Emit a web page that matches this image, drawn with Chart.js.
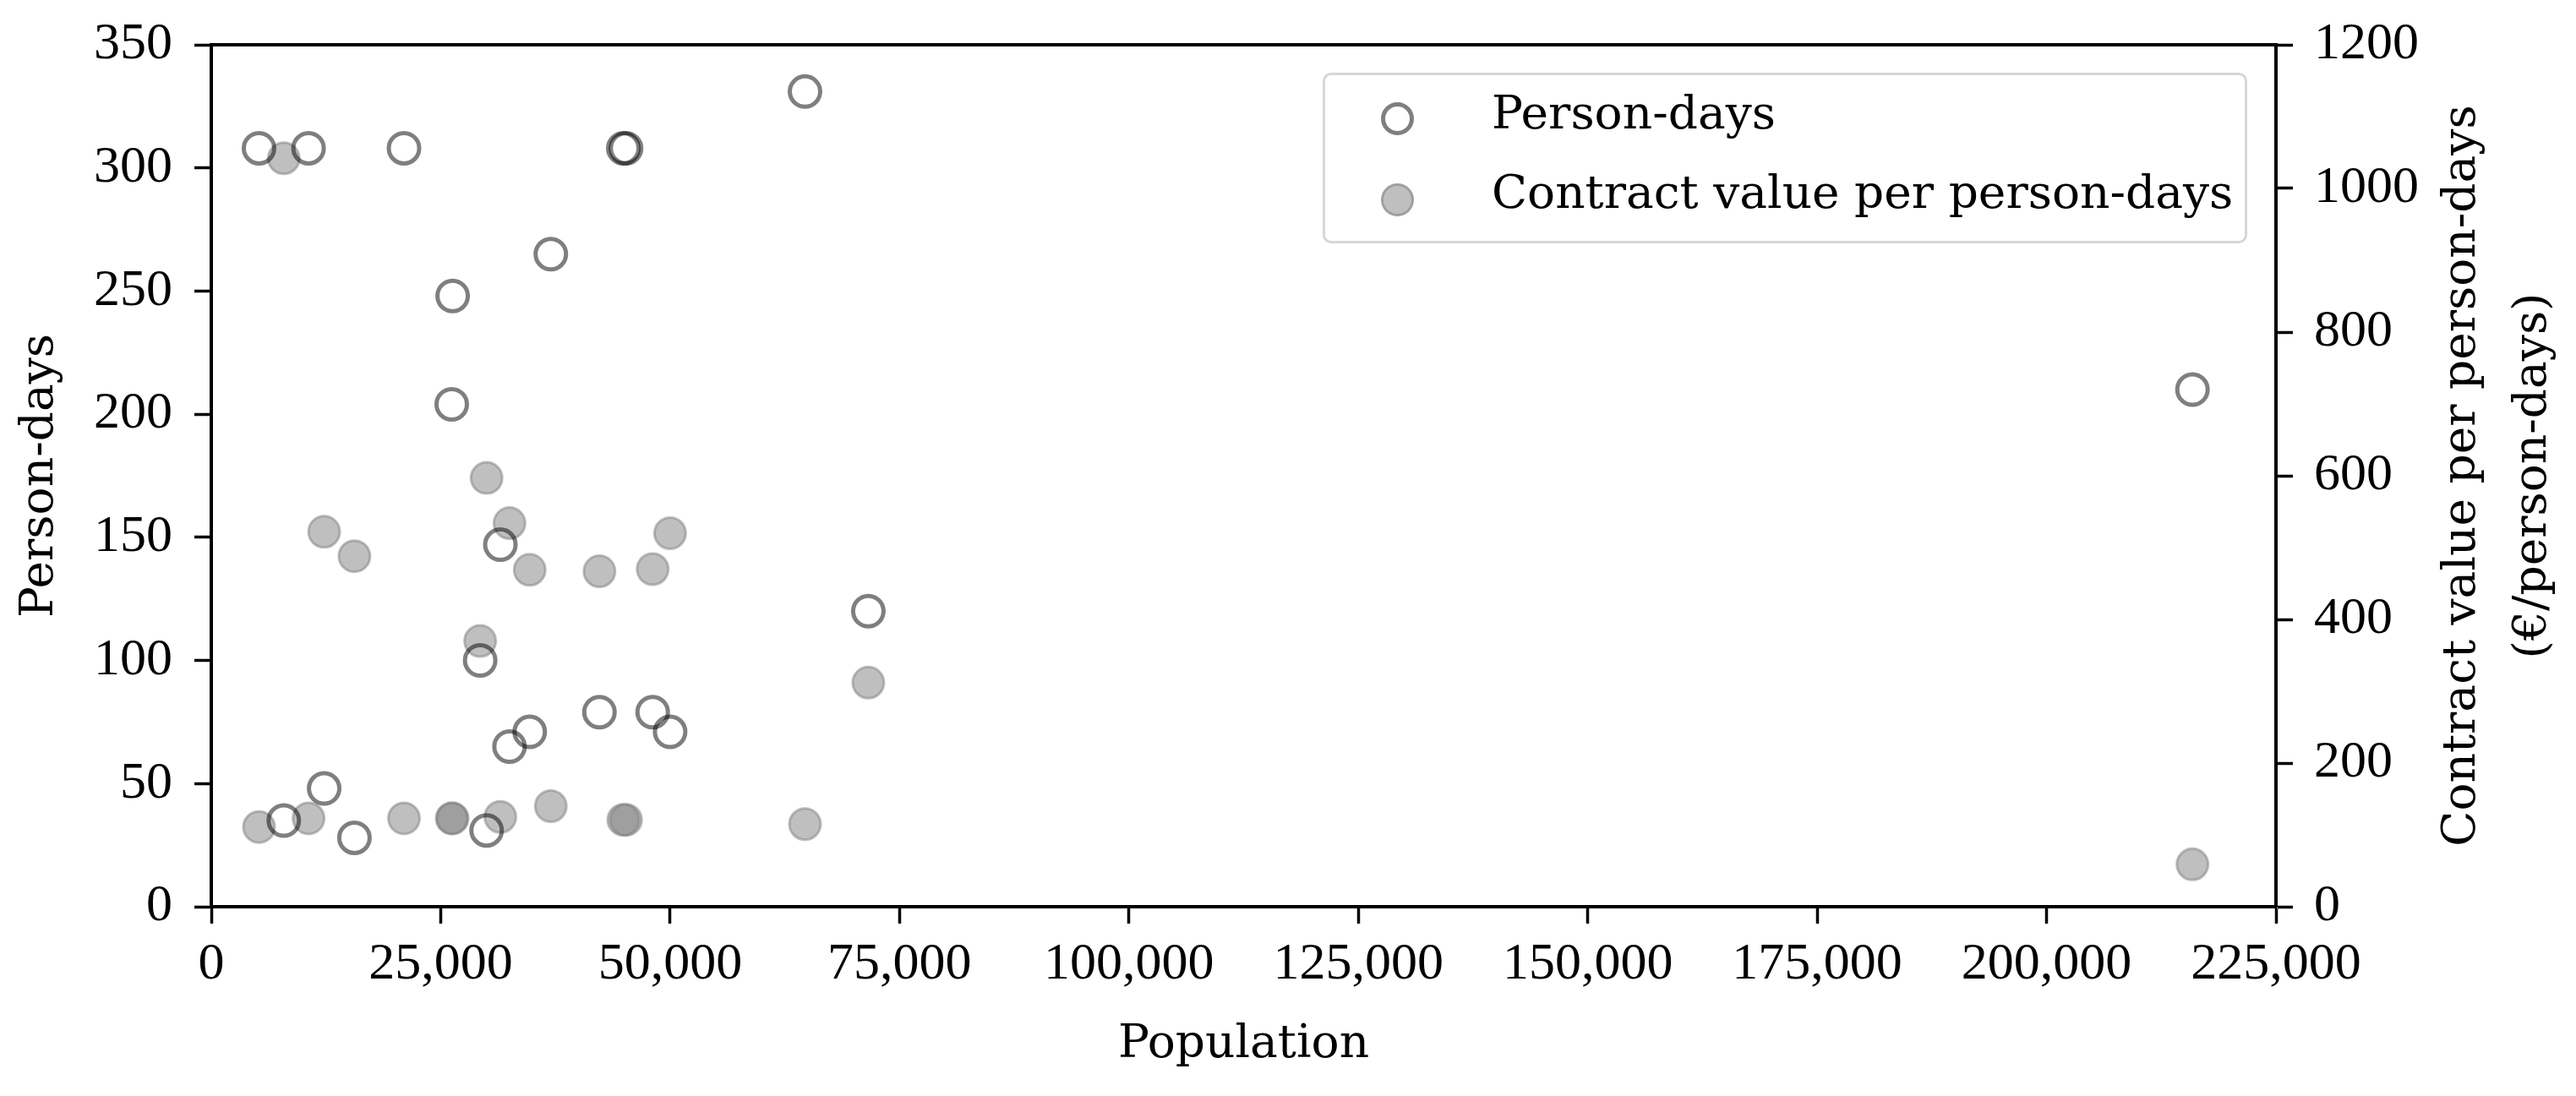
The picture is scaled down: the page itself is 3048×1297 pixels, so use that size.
<!DOCTYPE html>
<html>
<head>
<meta charset="utf-8">
<script src="https://cdn.jsdelivr.net/npm/chart.js@4"></script>
<style>
  html,body{margin:0;padding:0;background:#fff;}
  #wrap{position:relative;width:3048px;height:1297px;}
  #legend{position:absolute;left:1565px;top:86px;width:1094px;height:202px;box-sizing:border-box;
    border:3px solid #d6d6d6;border-radius:10px;background:rgba(255,255,255,.8);
    font-family:"DejaVu Serif",serif;font-size:55px;color:#000;}
  .row{position:absolute;left:0;width:100%;height:80px;}
  .mark{position:absolute;left:66px;width:39px;height:39px;border-radius:50%;box-sizing:border-box;}
  .txt{position:absolute;left:197px;top:0;line-height:80px;white-space:nowrap;}
</style>
</head>
<body>
<div id="wrap">
  <canvas id="c" width="3048" height="1297"></canvas>
  <div id="legend"></div>
</div>
<script>
// one entry per municipality
const population  = [5200, 7900, 10600, 12300, 15600, 21000, 26300, 26200, 29300, 30000, 31500,
                     32500, 34700, 37000, 42300, 44900, 45200, 48100, 50000, 64700, 71600, 215900];
const personDays  = [308, 35, 308, 48, 28, 308, 248, 204, 100, 31, 147,
                     65, 71, 265, 79, 308, 308, 79, 71, 331, 120, 210];
const valuePerDay = [111, 1042, 123, 522, 488, 123, 123, 123, 370, 597, 125,
                     534, 469, 140, 467, 121, 121, 470, 520, 115, 312, 59];

const xTicks  = [0, 25000, 50000, 75000, 100000, 125000, 150000, 175000, 200000, 225000];
const yTicks  = [0, 50, 100, 150, 200, 250, 300, 350];
const y1Ticks = [0, 200, 400, 600, 800, 1000, 1200];

const rightTitleLines = ['Contract value per person-days', '(€/person-days)'];

const tickFont  = {family:'"Liberation Serif", serif', size:62};
const titleFont = {family:'"DejaVu Serif", serif', size:55};

const setTicks = arr => s => { s.ticks = arr.map(v => ({value:v})); };
// fixed axis boxes, no extra label padding so the plot area stays where it should
const fixSize = (dim, px) => s => {
  s[dim] = px;
  s.paddingTop = s.paddingBottom = s.paddingLeft = s.paddingRight = 0;
};
const axisBase = (ticks, pad, fmt) => ({
  afterBuildTicks: setTicks(ticks),
  ticks:{font:tickFont, color:'#000', padding:pad, autoSkip:false, maxRotation:0, callback:fmt},
  grid:{drawOnChartArea:false, drawTicks:true, tickLength:20, tickWidth:3.5, tickColor:'#000'},
  border:{display:true, color:'#000', width:4}
});

const frame = {
  id:'frame',
  afterDraw(chart){
    const {ctx, chartArea:a} = chart;
    ctx.save();
    ctx.strokeStyle = '#000'; ctx.lineWidth = 4;
    ctx.beginPath(); ctx.moveTo(a.left-2, a.top); ctx.lineTo(a.right+2, a.top); ctx.stroke();
    // right axis title, read bottom to top like the left one
    ctx.fillStyle = '#000';
    ctx.font = `${titleFont.size}px ${titleFont.family}`;
    ctx.textAlign = 'center'; ctx.textBaseline = 'middle';
    const cy = (a.top + a.bottom) / 2, x0 = chart.scales.y1.right - 134;
    rightTitleLines.forEach((t, i) => {
      ctx.save(); ctx.translate(x0 + i*84, cy); ctx.rotate(-Math.PI/2); ctx.fillText(t, 0, 0); ctx.restore();
    });
    ctx.restore();
  }
};

const chart = new Chart(document.getElementById('c'), {
  type:'scatter',
  data:{datasets:[
    {label:'Person-days', yAxisID:'y',
     data:population.map((p,i) => ({x:p, y:personDays[i]})),
     pointRadius:18, pointHoverRadius:18, pointBorderWidth:5,
     pointBackgroundColor:'rgba(0,0,0,0)', pointBorderColor:'rgba(0,0,0,0.5)'},
    {label:'Contract value per person-days', yAxisID:'y1',
     data:population.map((p,i) => ({x:p, y:valuePerDay[i]})),
     pointRadius:18.5, pointHoverRadius:18.5, pointBorderWidth:3,
     pointBackgroundColor:'rgba(128,128,128,0.5)', pointBorderColor:'rgba(128,128,128,0.5)'}
  ]},
  options:{
    responsive:false, animation:false, devicePixelRatio:1,
    layout:{padding:{top:53, left:0, right:0, bottom:0}},
    plugins:{legend:{display:false}, tooltip:{enabled:false}},
    scales:{
      x:{...axisBase(xTicks, 12, v => v.toLocaleString('en-US')), type:'linear', position:'bottom', min:0, max:225000,
         title:{display:true, text:'Population', font:titleFont, color:'#000', padding:{top:0, bottom:27}},
         afterFit:fixSize('height', 224)},
      y:{...axisBase(yTicks, 26, v => String(v)), type:'linear', position:'left', min:0, max:350,
         title:{display:true, text:'Person-days', font:titleFont, color:'#000', padding:{top:15, bottom:0}},
         afterFit:fixSize('width', 250)},
      y1:{...axisBase(y1Ticks, 25, v => String(v)), type:'linear', position:'right', min:0, max:1200,
         title:{display:false},
         afterFit:fixSize('width', 355)}
    }
  },
  plugins:[frame]
});

// legend box inside the plot, upper right
const legend = document.getElementById('legend');
chart.data.datasets.forEach((ds, i) => {
  const row = document.createElement('div');
  row.className = 'row';
  row.style.top = (4 + i*94) + 'px';
  const mark = document.createElement('span');
  mark.className = 'mark';
  mark.style.top = (28 + (i ? 2 : 0)) + 'px';
  mark.style.background = ds.pointBackgroundColor;
  mark.style.border = `${ds.pointBorderWidth}px solid ${ds.pointBorderColor}`;
  const txt = document.createElement('span');
  txt.className = 'txt';
  txt.textContent = ds.label;
  row.append(mark, txt);
  legend.appendChild(row);
});
</script>
</body>
</html>
